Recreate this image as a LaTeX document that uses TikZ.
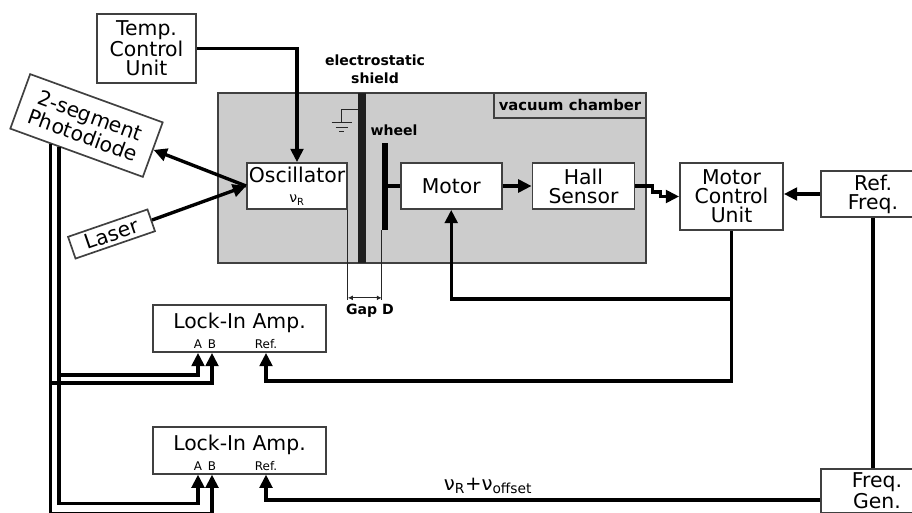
\documentclass[tikz,border=0pt]{standalone}
\usepackage{fontspec}
\setmainfont{DejaVu Sans}
\usepackage{tikz}
\usetikzlibrary{positioning}
\usetikzlibrary{arrows.meta}
\usetikzlibrary{calc}
\definecolor{chambergray}{rgb}{0.80,0.80,0.80}
\definecolor{edgegray}{rgb}{0.25,0.25,0.25}
\tikzset{
block/.style={rectangle, draw=edgegray, line width=1.2pt, fill=white, align=center, font=\fontsize{14.5}{13.5}\selectfont, inner sep=0pt},
chamber/.style={rectangle, draw=edgegray, line width=1.2pt, fill=chambergray, minimum width=10.7cm, minimum height=4.25cm},
bar_part/.style={rectangle, fill=black!88, inner sep=0pt},
tag/.style={font=\bfseries\fontsize{10}{12.5}\selectfont, align=center, inner sep=0pt},
port/.style={font=\fontsize{8.5}{9}\selectfont, inner sep=0pt},
wire/.style={line width=2.4pt, -{Triangle[length=9.5pt,width=9pt]}},
plain_wire/.style={line width=2.4pt},
thin_wire/.style={line width=0.9pt, draw=black!85}
}

\begin{document}
\begin{tikzpicture}[x=0.025cm, y=-0.025cm]
    \useasboundingbox (0,0) rectangle (912,512);
    \clip (0,0) rectangle (912,512);
    % vacuum chamber with shield and wheel
    \node[chamber] (chamber) at (432,178) {};
    \node[rectangle, draw=edgegray, line width=1.2pt, anchor=north east, minimum width=3.8cm, minimum height=0.625cm, tag, font=\bfseries\fontsize{10.5}{12}\selectfont] (vac_label) at (chamber.north east) {vacuum chamber};
    \node[bar_part, minimum width=0.2cm, minimum height=4.25cm] (shield) at (362,178) {};
    \node[bar_part, fill=black, minimum width=0.15cm, minimum height=2.175cm] (wheel) at (385,186.5) {};
    \node[tag] (shield_label) at (375,69) {electrostatic\\shield};
    \node[tag] (wheel_label) at (394,130) {wheel};
    \draw[thin_wire] ($(shield.north west)+(0,17)$) -- ++(-16,0) -- ++(0,13) coordinate (gnd);
    \draw[thin_wire] ($(gnd)+(-10,0)$) -- ++(20,0) ($(gnd)+(-6,4.5)$) -- ++(12,0) ($(gnd)+(-2.5,9)$) -- ++(5,0);

    % blocks
    \node[block, minimum width=2.475cm, minimum height=1.725cm] (tcu) at (146.5,48.5) {Temp.\\Control\\Unit};
    \node[block, minimum width=2.5cm, minimum height=1.15cm] (osc) at (297,186) {Oscillator\\[1pt]{\fontsize{10}{10}\selectfont ν\textsubscript{R}}};
    \node[block, minimum width=2.525cm, minimum height=1.15cm, right=1.3cm of osc] (motor) {Motor};
    \node[block, minimum width=2.55cm, minimum height=1.15cm, right=0.725cm of motor] (hall) {Hall\\Sensor};
    \node[block, minimum width=2.575cm, minimum height=1.675cm] (mcu) at (731.5,196.5) {Motor\\Control\\Unit};
    \node[block, minimum width=2.6cm, minimum height=1.15cm] (ref_freq) at (873,194) {Ref.\\Freq.};
    \node[block, anchor=north, minimum width=2.8cm, inner ysep=3pt, font=\fontsize{14.5}{12.5}\selectfont] (freq_gen) at (877,468) {Freq.\\Gen.};
    \node[block, rotate=-20, minimum width=3.525cm, minimum height=1.45cm] (pd) at (86.5,125.5) {2-segment\\Photodiode};
    \node[block, rotate=19, minimum width=2.1cm, minimum height=0.575cm] (laser) at (111.5,234) {Laser};
    \node[block, minimum width=4.325cm, minimum height=1.175cm, text depth=10.5pt] (lockin_1) at (239.5,328.5) {Lock-In Amp.};
    \node[block, minimum width=4.325cm, minimum height=1.175cm, text depth=10.5pt, below=1.825cm of lockin_1] (lockin_2) {Lock-In Amp.};
    \foreach \n in {1,2} {
        \node[port] (l\n_a) at ($(lockin_\n.south)+(-41.5,-8.5)$) {A};
        \node[port] (l\n_b) at ($(lockin_\n.south)+(-27.5,-8.5)$) {B};
        \node[port] (l\n_ref) at ($(lockin_\n.south)+(26.5,-8.5)$) {Ref.};
    }

    % optics and oscillator
    \draw[wire] (tcu.east) -| (osc.north);
    \draw[wire] (laser.east) -- (osc.west);
    \draw[wire] (osc.west) -- (pd.east);
    \draw[line width=3.2pt] (wheel.east |- motor.west) -- (motor.west);

    % gap
    \draw[thin_wire] (osc.south east) -- ++(0,90) coordinate (gap_left);
    \draw[thin_wire] (wheel.south west) -- (wheel.south west |- gap_left) coordinate (gap_right);
    \draw[thin_wire, {Latex[length=3.5pt,width=3.5pt]}-{Latex[length=3.5pt,width=3.5pt]}] ($(gap_left)+(0,-2)$) -- ($(gap_right)+(0,-2)$);
    \node[tag] (gap_label) at (370,311) {Gap D};

    % motor loop
    \draw[wire] (motor) -- (hall);
    \draw[wire] (hall.east) -- ++(17,0) |- ++(8,6) |- (mcu.west);
    \draw[wire] (ref_freq.west) -- (ref_freq.west -| mcu.east);
    \draw[wire] (mcu.south) |- ($(motor.south)+(0,89)$) -- (motor.south);
    \draw[wire] (mcu.south) |- ($(l1_ref |- lockin_1.south)+(0,28)$) -- (l1_ref |- lockin_1.south);
    \draw[plain_wire] (ref_freq.south) -- (ref_freq.south |- freq_gen.north);
    \draw[wire] ($(freq_gen.north west)+(0,32)$) -| (l2_ref |- lockin_2.south);
    \node[font=\fontsize{14}{14}\selectfont] (offset_label) at (488,486) {ν\textsubscript{R}+ν\textsubscript{offset}};

    % photodiode signals
    \coordinate (pd_b) at ($(pd.south west)!0.31!(pd.south east)$);
    \coordinate (pd_a) at ($(pd.south west)!0.37!(pd.south east)$);
    \draw[wire] (pd_a) |- ($(l1_a |- lockin_1.south)+(0,22)$) -- (l1_a |- lockin_1.south);
    \draw[wire] (pd_b) |- ($(l1_b |- lockin_1.south)+(0,30)$) -- (l1_b |- lockin_1.south);
    \draw[wire] (pd_a) |- ($(l2_a |- lockin_2.south)+(0,29)$) -- (l2_a |- lockin_2.south);
    \draw[wire] (pd_b) |- ($(l2_b |- lockin_2.south)+(0,39)$) -- (l2_b |- lockin_2.south);
\end{tikzpicture}
\end{document}
